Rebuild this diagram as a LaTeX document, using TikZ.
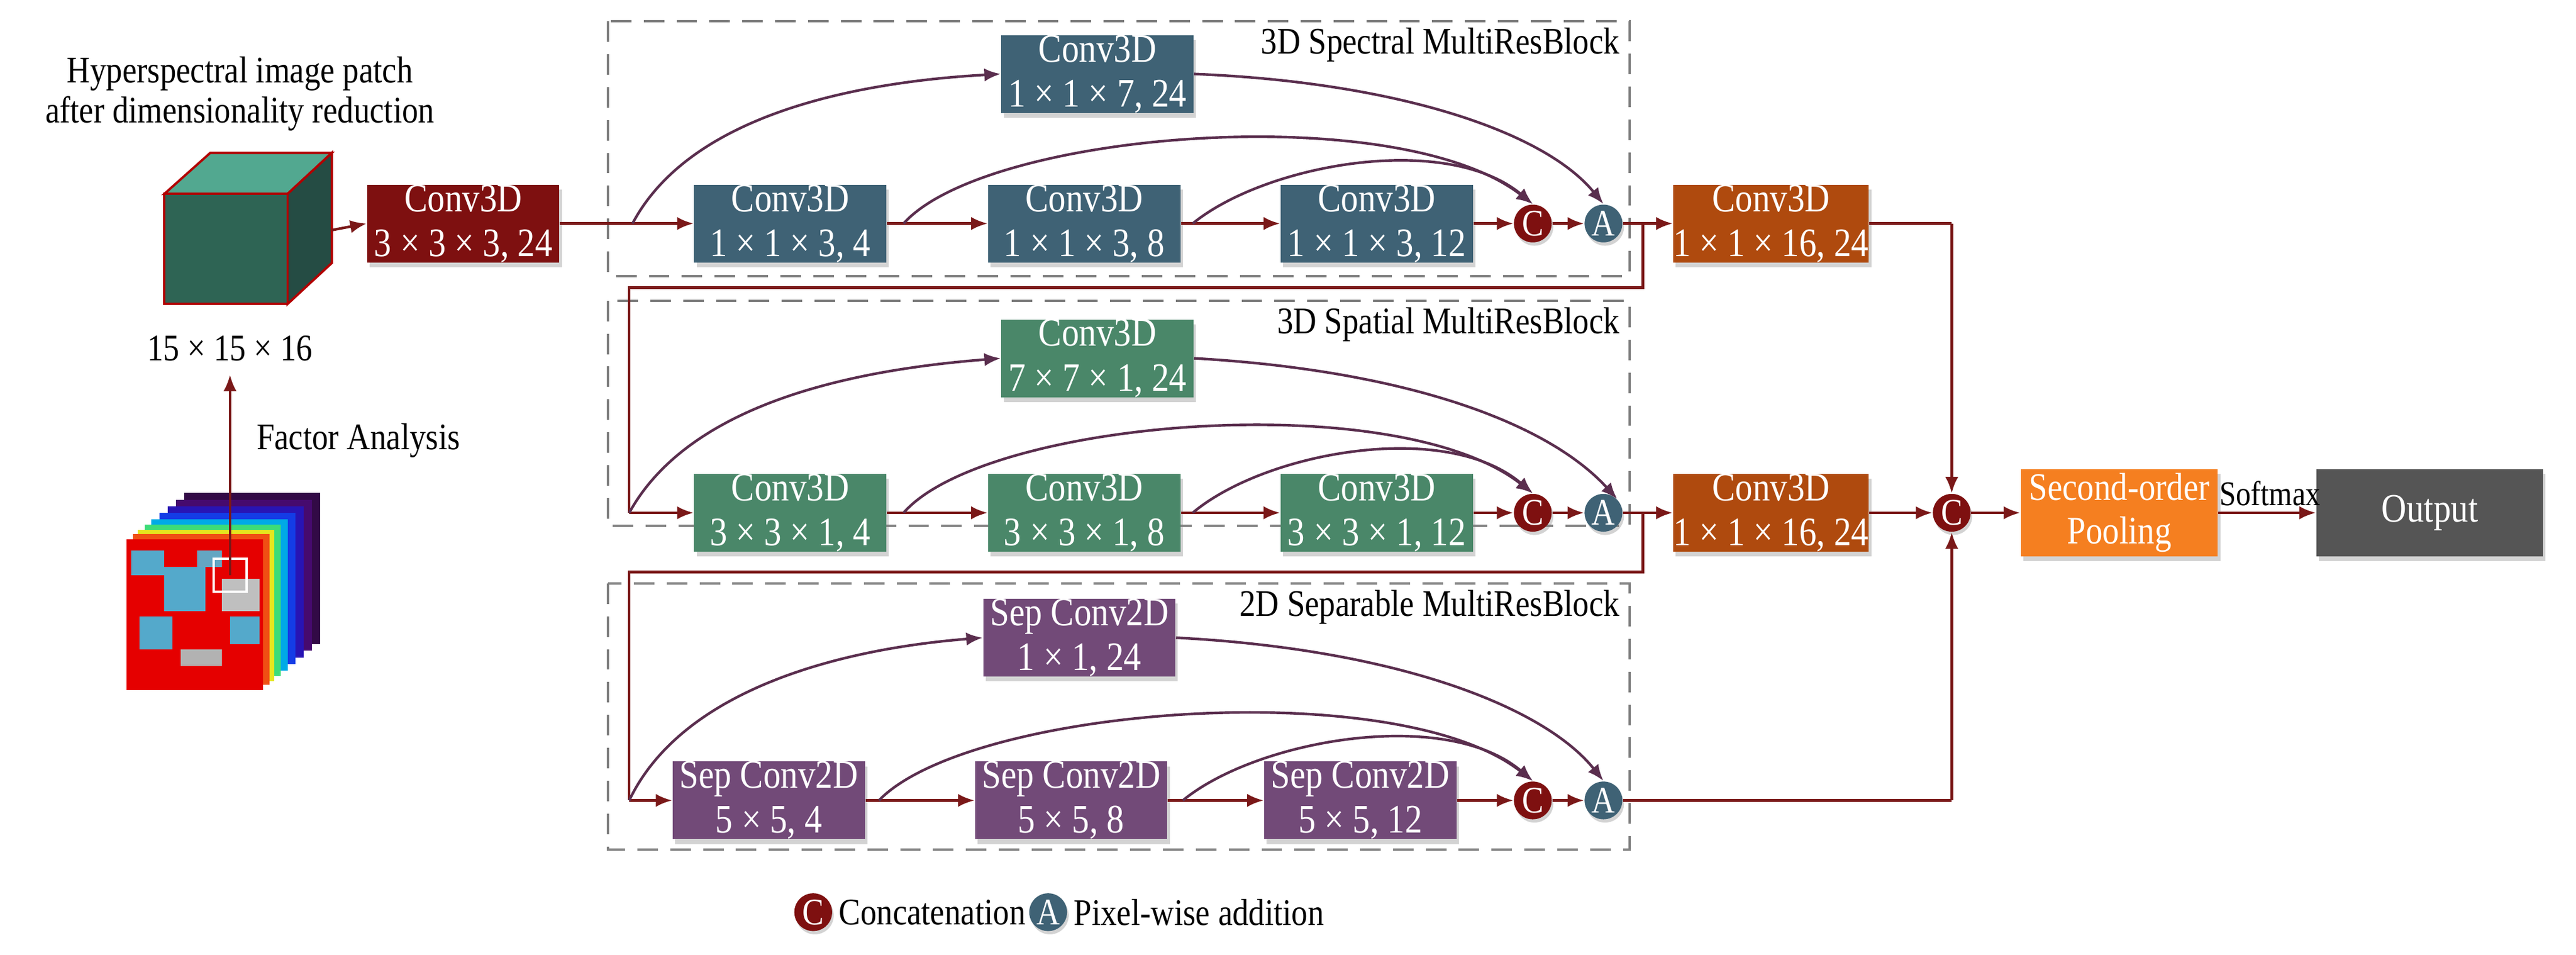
\documentclass[tikz,border=0pt]{standalone}
\usepackage{fontspec}
\setmainfont{Liberation Serif}[FakeStretch=0.86]
\usetikzlibrary{arrows.meta,shadows}
\definecolor{cred}{HTML}{7E1010}
\definecolor{cline}{HTML}{7A1818}
\definecolor{ccurve}{HTML}{5A2E4E}
\definecolor{cslate}{HTML}{3F6275}
\definecolor{cgreen}{HTML}{4A8769}
\definecolor{cpurple}{HTML}{724A78}
\definecolor{corange}{HTML}{AF4A0E}
\definecolor{cpool}{HTML}{F57F20}
\definecolor{cout}{HTML}{555555}
\definecolor{cubetop}{HTML}{52A890}
\definecolor{cubeside}{HTML}{254C44}
\definecolor{cubefront}{HTML}{2E6454}
\definecolor{lA}{HTML}{320A46}
\definecolor{lB}{HTML}{460A6E}
\definecolor{lC}{HTML}{2814B4}
\definecolor{lD}{HTML}{143CE6}
\definecolor{lE}{HTML}{00AAE6}
\definecolor{lF}{HTML}{3CDC78}
\definecolor{lG}{HTML}{E6E61E}
\definecolor{lH}{HTML}{F05014}
\begin{document}
\begin{tikzpicture}[x=0.02cm,y=-0.02cm,
  txt/.style={font=\fontsize{13}{14}\selectfont},
  btxt/.style={font=\fontsize{14}{15.5}\selectfont},
  box/.style={btxt,text=white,align=center,inner sep=0pt,minimum width=2.34cm,minimum height=0.94cm,drop shadow={opacity=0.35,shadow xshift=0.3mm,shadow yshift=-0.6mm}},
  circ/.style={circle,txt,text=white,inner sep=0pt,minimum size=0.46cm,drop shadow={opacity=0.35,shadow xshift=0.2mm,shadow yshift=-0.4mm}},
  cc/.style={circ,fill=cred},
  aa/.style={circ,fill=cslate},
  ln/.style={draw=cline,line width=0.9pt},
  arr/.style={ln,-{Latex[length=2mm,width=1.6mm]}},
  cur/.style={draw=ccurve,line width=0.9pt,-{Latex[length=2mm,width=1.6mm]}},
  dbox/.style={draw=gray,line width=0.8pt,dash pattern=on 2.5mm off 1.5mm},
  btitle/.style={txt,anchor=north east,inner sep=1pt}]
\useasboundingbox (0,0) rectangle (1568,581);

% input text and cube
\node[txt,align=center] (title) at (146,57) {Hyperspectral image patch\\after dimensionality reduction};
\draw[draw=red!70!black,line width=0.8pt,fill=cubetop] (100,118) -- (128,93) -- (202,93) -- (175,118) -- cycle;
\draw[draw=red!70!black,line width=0.8pt,fill=cubeside] (175,118) -- (202,93) -- (202,160) -- (175,185) -- cycle;
\draw[draw=red!70!black,line width=0.8pt,fill=cubefront] (100,118) rectangle (175,185);
\coordinate (cubeE) at (202,140);
\coordinate (cubeS) at (140,228);
\node[txt] (dims) at (140,212) {15 × 15 × 16};
\node[txt,anchor=west] (fa) at (150,268) {Factor Analysis};

% image cube layers
\foreach \o/\c in {35/lA,30/lB,25/lC,20/lD,15/lE,11/lF,7/lG,4/lH}{
  \fill[\c] (77+\o,328-0.8*\o) rectangle (160+\o,420-0.8*\o);
}
\fill[red!90!black] (77,328) rectangle (160,420);
\fill[cyan!60!gray] (80,335) rectangle (100,350);
\fill[cyan!60!gray] (100,345) rectangle (125,372);
\fill[cyan!60!gray] (85,375) rectangle (105,395);
\fill[cyan!50!gray] (120,335) rectangle (135,345);
\fill[gray!60] (110,395) rectangle (135,405);
\fill[cyan!60!gray] (140,375) rectangle (158,392);
\fill[gray!50] (135,352) rectangle (158,372);
\node[draw=white,line width=0.8pt,minimum size=0.4cm,inner sep=0pt] (patch) at (140,350) {};
\draw[arr] (patch.center) -- (cubeS);

% first conv
\node[box,fill=cred] (c0) at (282,136) {Conv3D\\3 × 3 × 3, 24};
\draw[arr] (cubeE) -- (c0.west);

% dashed blocks
\draw[dbox] (370,13) rectangle (992,168);
\node[btitle] (t1) at (988,15) {3D Spectral MultiResBlock};
\draw[dbox] (370,183) rectangle (992,320);
\node[btitle] (t2) at (988,185) {3D Spatial MultiResBlock};
\draw[dbox] (370,355) rectangle (992,517);
\node[btitle] (t3) at (988,357) {2D Separable MultiResBlock};

% block 1
\node[box,fill=cslate] (top1) at (668,45) {Conv3D\\1 × 1 × 7, 24};
\node[box,fill=cslate] (a1) at (481,136) {Conv3D\\1 × 1 × 3, 4};
\node[box,fill=cslate] (b1) at (660,136) {Conv3D\\1 × 1 × 3, 8};
\node[box,fill=cslate] (d1) at (838,136) {Conv3D\\1 × 1 × 3, 12};
\node[cc] (C1) at (933,136) {C};
\node[aa] (A1) at (976,136) {A};
\coordinate (s1) at (385,136);
\coordinate (p1) at (550,136);
\coordinate (q1) at (726,136);
\draw[ln] (c0.east) -- (s1);
\draw[arr] (s1) -- (a1.west);
\draw[arr] (a1.east) -- (b1.west);
\draw[arr] (b1.east) -- (d1.west);
\draw[arr] (d1.east) -- (C1.west);
\draw[arr] (C1.east) -- (A1.west);
\draw[cur] (s1) .. controls (420,70) and (520,50) .. (top1.west);
\draw[cur] (top1.east) .. controls (850,50) and (940,80) .. (A1.north);
\draw[cur] (p1) .. controls (600,80) and (850,60) .. (C1.north);
\draw[cur] (q1) .. controls (770,100) and (880,80) .. (C1.north);

% block 2
\node[box,fill=cgreen] (top2) at (668,218) {Conv3D\\7 × 7 × 1, 24};
\node[box,fill=cgreen] (a2) at (481,312) {Conv3D\\3 × 3 × 1, 4};
\node[box,fill=cgreen] (b2) at (660,312) {Conv3D\\3 × 3 × 1, 8};
\node[box,fill=cgreen] (d2) at (838,312) {Conv3D\\3 × 3 × 1, 12};
\node[cc] (C2) at (933,312) {C};
\node[aa] (A2) at (976,312) {A};
\coordinate (f1) at (1000,136);
\coordinate (g1) at (1000,175);
\coordinate (h1) at (383,175);
\coordinate (s2) at (383,312);
\coordinate (p2) at (550,312);
\coordinate (q2) at (726,312);
\draw[ln] (f1) -- (g1) -- (h1) -- (s2);
\draw[arr] (s2) -- (a2.west);
\draw[arr] (a2.east) -- (b2.west);
\draw[arr] (b2.east) -- (d2.west);
\draw[arr] (d2.east) -- (C2.west);
\draw[arr] (C2.east) -- (A2.west);
\draw[cur] (s2) .. controls (420,245) and (520,225) .. (top2.west);
\draw[cur] (top2.east) .. controls (850,225) and (940,255) .. (A2.north east);
\draw[cur] (p2) .. controls (600,255) and (850,235) .. (C2.north);
\draw[cur] (q2) .. controls (770,275) and (880,255) .. (C2.north);

% block 3
\node[box,fill=cpurple] (top3) at (657,388) {Sep Conv2D\\1 × 1, 24};
\node[box,fill=cpurple] (a3) at (468,487) {Sep Conv2D\\5 × 5, 4};
\node[box,fill=cpurple] (b3) at (652,487) {Sep Conv2D\\5 × 5, 8};
\node[box,fill=cpurple] (d3) at (828,487) {Sep Conv2D\\5 × 5, 12};
\node[cc] (C3) at (933,487) {C};
\node[aa] (A3) at (976,487) {A};
\coordinate (f2) at (1000,312);
\coordinate (g2) at (1000,348);
\coordinate (h2) at (383,348);
\coordinate (s3) at (383,487);
\coordinate (p3) at (535,487);
\coordinate (q3) at (720,487);
\draw[ln] (f2) -- (g2) -- (h2) -- (s3);
\draw[arr] (s3) -- (a3.west);
\draw[arr] (a3.east) -- (b3.west);
\draw[arr] (b3.east) -- (d3.west);
\draw[arr] (d3.east) -- (C3.west);
\draw[arr] (C3.east) -- (A3.west);
\draw[cur] (s3) .. controls (415,420) and (510,395) .. (top3.west);
\draw[cur] (top3.east) .. controls (850,395) and (940,430) .. (A3.north);
\draw[cur] (p3) .. controls (590,430) and (850,410) .. (C3.north);
\draw[cur] (q3) .. controls (765,450) and (880,430) .. (C3.north);

% right part
\node[box,fill=corange] (o1) at (1078,136) {Conv3D\\1 × 1 × 16, 24};
\node[box,fill=corange] (o2) at (1078,312) {Conv3D\\1 × 1 × 16, 24};
\draw[arr] (A1.east) -- (o1.west);
\draw[arr] (A2.east) -- (o2.west);
\node[cc] (Cf) at (1188,312) {C};
\coordinate (r1) at (1188,136);
\coordinate (r3) at (1188,487);
\draw[ln] (o1.east) -- (r1);
\draw[arr] (r1) -- (Cf.north);
\draw[arr] (o2.east) -- (Cf.west);
\draw[ln] (A3.east) -- (r3);
\draw[arr] (r3) -- (Cf.south);
\node[box,fill=cpool,font=\fontsize{13.5}{15}\selectfont,minimum width=2.4cm,minimum height=1.06cm] (pool) at (1290,312) {Second-order\\Pooling};
\draw[arr] (Cf.east) -- (pool.west);
\node[box,fill=cout,minimum width=2.76cm,minimum height=1.06cm] (out) at (1479,312) {Output};
\draw[arr] (pool.east) -- node[font=\fontsize{12}{13}\selectfont,above,text=black,inner sep=2pt,xshift=1pt] {Softmax} (out.west);

% legend
\node[cc] (lc) at (495,555) {C};
\node[txt,anchor=west,inner sep=2pt] (lct) at (lc.east) {Concatenation};
\node[aa] (la) at (638,555) {A};
\node[txt,anchor=west,inner sep=2pt] (lat) at (la.east) {Pixel-wise addition};
\end{tikzpicture}
\end{document}
